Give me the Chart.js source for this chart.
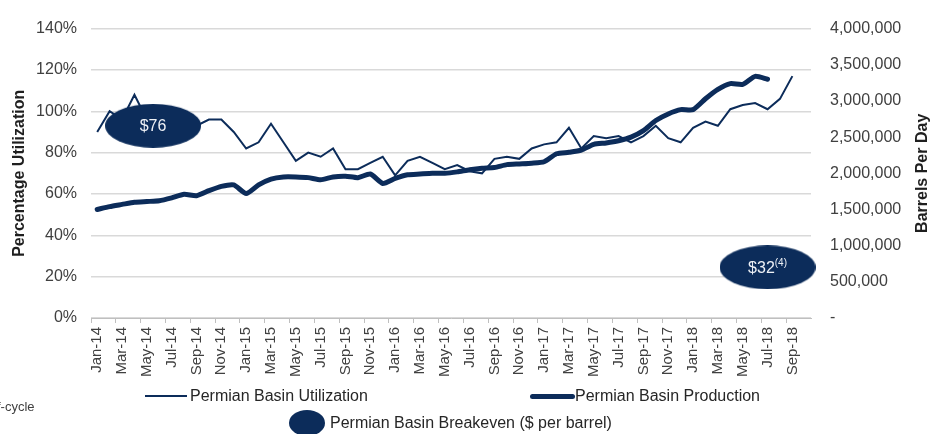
<!DOCTYPE html>
<html lang="en">
<head>
  <meta charset="UTF-8" />
  <title>Permian Basin Utilization and Production</title>
  <script src="https://cdn.jsdelivr.net/npm/chart.js"></script>
  <style>
    body {
      margin: 0;
      background: #ffffff;
      font-family: 'Liberation Sans', Arial, sans-serif;
    }
    .wrap {
      position: relative;
      width: 945px;
      height: 434px;
      overflow: hidden;
    }
    canvas { position: absolute; left: 0; top: 0; }
    .leg {
      position: absolute;
      font-size: 16px;
      color: #262626;
      white-space: nowrap;
      line-height: 20px;
    }
    .swatch {
      position: absolute;
      background: #0c2c5a;
    }
    .note {
      position: absolute;
      left: -3px;
      top: 399px;
      font-size: 13px;
      color: #404040;
    }
  </style>
</head>
<body>
<div class="wrap">
  <canvas id="permianChart" width="945" height="390"></canvas>

  <!-- legend -->
  <div class="swatch" style="left:145px; top:395px; width:42px; height:2px;"></div>
  <div class="leg" style="left:190px; top:386px;">Permian Basin Utilization</div>
  <div class="swatch" style="left:530px; top:394px; width:45px; height:5px; border-radius:3px;"></div>
  <div class="leg" style="left:575px; top:386px;">Permian Basin Production</div>
  <div class="swatch" style="left:289px; top:410px; width:36px; height:26px; border-radius:50%;"></div>
  <div class="leg" style="left:330px; top:413px;">Permian Basin Breakeven ($ per barrel)</div>

  <div class="note">f-cycle</div>
</div>

<script>
  // Data
  const months = [
    'Jan-14', 'Feb-14', 'Mar-14', 'Apr-14', 'May-14', 'Jun-14', 'Jul-14', 'Aug-14', 'Sep-14', 'Oct-14', 'Nov-14', 'Dec-14',
    'Jan-15', 'Feb-15', 'Mar-15', 'Apr-15', 'May-15', 'Jun-15', 'Jul-15', 'Aug-15', 'Sep-15', 'Oct-15', 'Nov-15', 'Dec-15',
    'Jan-16', 'Feb-16', 'Mar-16', 'Apr-16', 'May-16', 'Jun-16', 'Jul-16', 'Aug-16', 'Sep-16', 'Oct-16', 'Nov-16', 'Dec-16',
    'Jan-17', 'Feb-17', 'Mar-17', 'Apr-17', 'May-17', 'Jun-17', 'Jul-17', 'Aug-17', 'Sep-17', 'Oct-17', 'Nov-17', 'Dec-17',
    'Jan-18', 'Feb-18', 'Mar-18', 'Apr-18', 'May-18', 'Jun-18', 'Jul-18', 'Aug-18', 'Sep-18', 'Oct-18'
  ];

  // Permian Basin Utilization (%)
  const utilization = [
    90, 100, 96, 108, 96, 93, 91, 92, 93, 96, 96, 90,
    82, 85, 94, 85, 76, 80, 78, 82, 72, 72, 75, 78,
    69, 76, 78, 75, 72, 74, 71, 70, 77, 78, 77, 82,
    84, 85, 92, 82, 88, 87, 88, 85, 88, 93, 87, 85,
    92, 95, 93, 101, 103, 104, 101, 106, 117, null
  ];

  // Permian Basin Production (barrels per day)
  const production = [
    1500000, 1540000, 1570000, 1600000, 1610000, 1620000, 1660000, 1710000, 1690000, 1760000, 1820000, 1840000,
    1720000, 1840000, 1920000, 1950000, 1950000, 1940000, 1910000, 1950000, 1960000, 1940000, 1990000, 1860000,
    1930000, 1980000, 1990000, 2000000, 2000000, 2020000, 2050000, 2070000, 2080000, 2120000, 2130000, 2140000,
    2160000, 2270000, 2290000, 2320000, 2400000, 2420000, 2450000, 2500000, 2590000, 2730000, 2820000, 2880000,
    2880000, 3030000, 3160000, 3240000, 3230000, 3340000, 3300000, null, null, null
  ];

  // Permian Basin Breakeven ($ per barrel), placed by month index and % axis
  const breakeven = [76, 32];
  const breakevenLabels = ['$76', '$32'];
  const breakevenNotes = ['', '(4)'];
  const breakevenAt = [4.5, 54];
  const breakevenLevel = [93, 24.5];

  const pctTicks = [0, 20, 40, 60, 80, 100, 120, 140];
  const bblTicks = [0, 500000, 1000000, 1500000, 2000000, 2500000, 3000000, 3500000, 4000000];

  const navy = '#0c2c5a';
  const tickColor = '#404040';
  const fontFamily = '"Liberation Sans", Arial, sans-serif';

  // ellipse marker for breakeven points
  function ellipseMarker(w, h) {
    const c = document.createElement('canvas');
    c.width = w;
    c.height = h;
    const g = c.getContext('2d');
    g.fillStyle = navy;
    g.beginPath();
    g.ellipse(w / 2, h / 2, w / 2, h / 2, 0, 0, Math.PI * 2);
    g.fill();
    return c;
  }

  const breakevenText = {
    id: 'breakevenText',
    afterDatasetsDraw(chart) {
      const meta = chart.getDatasetMeta(0);
      const ctx = chart.ctx;
      ctx.save();
      ctx.fillStyle = '#eef1f6';
      ctx.textBaseline = 'middle';
      ctx.textAlign = 'left';
      meta.data.forEach((pt, i) => {
        ctx.font = '16px ' + fontFamily;
        const main = breakevenLabels[i];
        const mw = ctx.measureText(main).width;
        ctx.font = '10px ' + fontFamily;
        const nw = breakevenNotes[i] ? ctx.measureText(breakevenNotes[i]).width : 0;
        const x0 = pt.x - (mw + nw) / 2;
        ctx.font = '16px ' + fontFamily;
        ctx.fillText(main, x0, pt.y + 1);
        if (nw) {
          ctx.font = '10px ' + fontFamily;
          ctx.fillText(breakevenNotes[i], x0 + mw, pt.y - 4);
        }
      });
      ctx.restore();
    }
  };

  // right axis title reads bottom-to-top like the left one
  const rightTitle = {
    id: 'rightTitle',
    afterDraw(chart) {
      const ctx = chart.ctx;
      const area = chart.chartArea;
      ctx.save();
      ctx.translate(923, (area.top + area.bottom) / 2);
      ctx.rotate(-Math.PI / 2);
      ctx.font = 'bold 16px ' + fontFamily;
      ctx.fillStyle = '#1f1f1f';
      ctx.textAlign = 'center';
      ctx.textBaseline = 'middle';
      ctx.fillText('Barrels Per Day', 0, 0);
      ctx.restore();
    }
  };

  new Chart(document.getElementById('permianChart').getContext('2d'), {
    type: 'line',
    data: {
      labels: months,
      datasets: [
        {
          label: 'Permian Basin Breakeven ($ per barrel)',
          data: breakeven.map((v, i) => ({ x: breakevenAt[i], y: breakevenLevel[i], price: v })),
          xAxisID: 'xb',
          yAxisID: 'y',
          showLine: false,
          clip: false,
          pointRadius: 5,
          pointStyle: ellipseMarker(96, 44)
        },
        {
          label: 'Permian Basin Utilization',
          data: utilization,
          yAxisID: 'y',
          borderColor: navy,
          borderWidth: 2,
          pointRadius: 0,
          tension: 0,
          borderJoinStyle: 'miter'
        },
        {
          label: 'Permian Basin Production',
          data: production,
          yAxisID: 'y2',
          borderColor: navy,
          borderWidth: 5,
          pointRadius: 0,
          tension: 0.2,
          borderCapStyle: 'round',
          borderJoinStyle: 'round'
        }
      ]
    },
    options: {
      responsive: false,
      animation: false,
      events: [],
      layout: { padding: { top: 21, left: 0, right: 0, bottom: 0 } },
      plugins: {
        legend: { display: false },
        tooltip: { enabled: false }
      },
      scales: {
        x: {
          type: 'category',
          offset: true,
          afterFit(scale) { scale.height = 72; },
          grid: {
            offset: true,
            drawOnChartArea: false,
            drawTicks: true,
            tickLength: 5,
            color: ctx => (ctx.index % 2 === 0 ? '#bfbfbf' : 'rgba(0,0,0,0)')
          },
          border: { display: true, color: '#bfbfbf', width: 1 },
          ticks: {
            autoSkip: false,
            minRotation: 90,
            maxRotation: 90,
            padding: 4,
            color: tickColor,
            font: { size: 15, family: fontFamily },
            callback: (v, i) => (i % 2 === 0 ? months[i] : '')
          }
        },
        xb: {
          type: 'linear',
          display: false,
          min: -0.5,
          max: months.length - 0.5
        },
        y: {
          position: 'left',
          min: 0,
          max: 140,
          afterFit(scale) { scale.width = 91; },
          afterBuildTicks(scale) { scale.ticks = pctTicks.map(v => ({ value: v })); },
          grid: { color: '#d9d9d9', lineWidth: 1.5, drawTicks: false },
          border: { display: false },
          ticks: {
            padding: 14,
            color: tickColor,
            font: { size: 16, family: fontFamily },
            callback: v => v + '%'
          },
          title: {
            display: true,
            text: 'Percentage Utilization',
            color: '#1f1f1f',
            padding: { top: 10, bottom: 0 },
            font: { size: 16, weight: 'bold', family: fontFamily }
          }
        },
        y2: {
          position: 'right',
          min: 0,
          max: 4000000,
          afterFit(scale) { scale.width = 134; },
          afterBuildTicks(scale) { scale.ticks = bblTicks.map(v => ({ value: v })); },
          grid: { drawOnChartArea: false, drawTicks: false },
          border: { display: false },
          ticks: {
            padding: 19,
            color: tickColor,
            font: { size: 16, family: fontFamily },
            callback: v => (v === 0 ? '-' : v.toLocaleString('en-US'))
          }
        }
      }
    },
    plugins: [breakevenText, rightTitle]
  });
</script>
</body>
</html>
